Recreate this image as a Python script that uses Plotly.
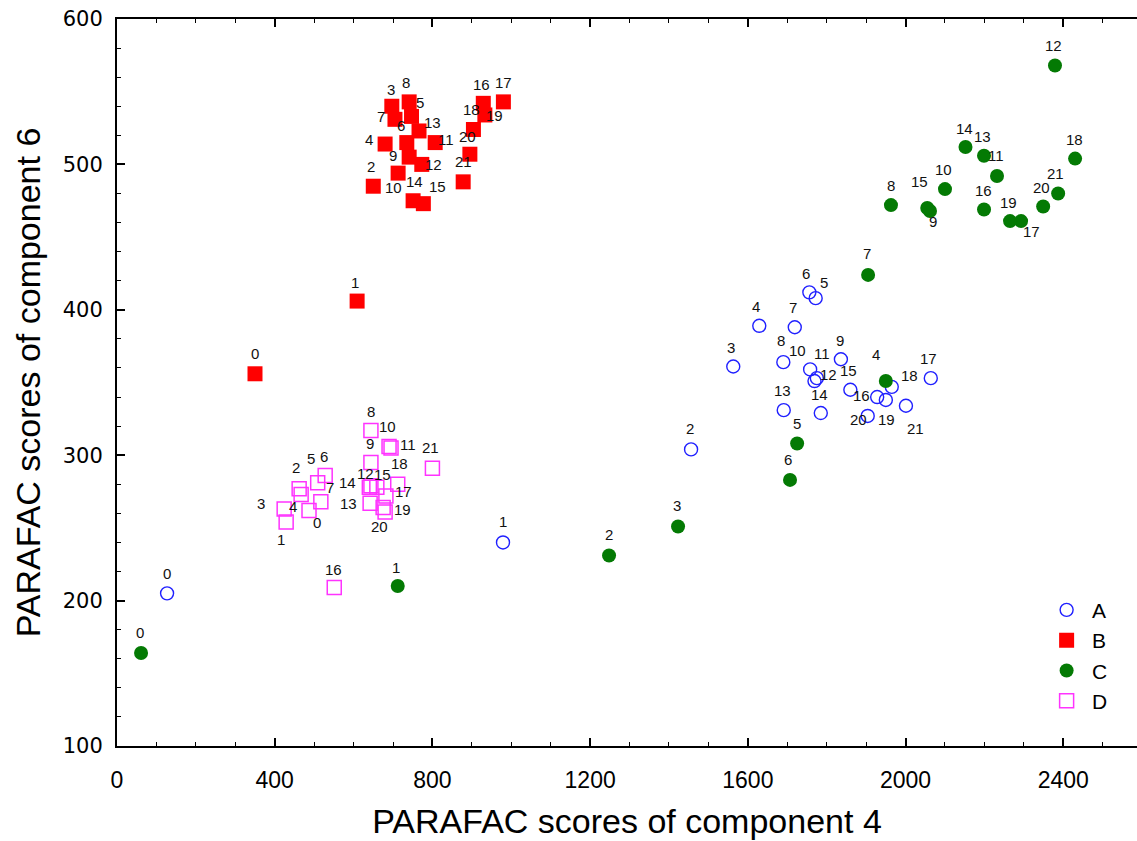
import plotly.graph_objects as go

# ---- data ----
labels = [str(i) for i in range(22)]

A_x = [127, 979, 1456, 1563, 1629, 1772, 1756, 1719, 1690, 1836, 1758, 1775, 1769, 1691, 1785, 1860, 1928, 2064, 1965, 1950, 1904, 2001]
A_y = [205, 240, 304, 361, 389, 408, 412, 388, 364, 366, 359, 353, 351, 331, 329, 345, 340, 353, 347, 338, 327, 334]

B_x = [350, 609, 650, 697, 680, 747, 735, 705, 741, 741, 713, 807, 773, 766, 751, 777, 929, 980, 904, 933, 895, 878]
B_y = [356, 406, 485, 540, 514, 533, 515, 531, 543, 505, 494, 515, 500, 523, 475, 473, 542, 543, 524, 534, 507, 488]

C_x = [61, 712, 1248, 1423, 1950, 1725, 1707, 1905, 1963, 2062, 2100, 2232, 2379, 2199, 2152, 2055, 2199, 2293, 2430, 2265, 2349, 2387]
C_y = [164, 210, 231, 251, 351, 308, 283, 424, 472, 468, 483, 492, 568, 506, 512, 470, 469, 461, 504, 461, 471, 480]

D_x = [487, 429, 462, 424, 467, 509, 528, 517, 644, 644, 690, 695, 640, 642, 644, 659, 551, 682, 712, 680, 675, 800]
D_y = [262, 254, 277, 263, 273, 281, 286, 268, 317, 295, 306, 305, 278, 267, 279, 278, 209, 272, 280, 261, 264, 291]

# ---- label placement (pixel offsets from marker, dx right, dy down) ----
A_off = [(0, -20), (0, -21), (-1, -21), (-2, -19), (-3, -19), (8, -16), (-3, -19), (-2, -20), (-2, -22), (-1, -19), (-13, -19),
         (5, -25), (14, -7), (-1, -20), (-1, -19), (-2, -19), (-16, -2), (-2, -20), (18, -11), (1, 20), (-9, 4), (10, 23)]
B_off = [(0, -20), (-2, -19), (-2, -20), (-1, -17), (-16, -5), (8, -14), (-6, -17), (-14, -3), (-3, -19), (-16, -2), (-5, 14),
         (11, -3), (12, 0), (13, -8), (1, -19), (14, -17), (-2, -19), (0, -19), (-2, -20), (10, 1), (-2, -18), (0, -20)]
C_off = [(-1, -20), (-2, -19), (0, -21), (-1, -21), (-10, -27), (0, -20), (-2, -20), (-1, -21), (0, -20), (3, 11), (-1, -20),
         (-1, -21), (-1, -20), (-2, -19), (-1, -18), (-8, -27), (-1, -19), (10, 10), (-1, -19), (-2, -19), (-2, -19), (-3, -20)]
D_off = [(8, 12), (-5, 17), (-3, -21), (-23, -6), (-8, 12), (-7, -24), (-1, -19), (9, -14), (0, -19), (-1, -19), (-2, -20),
         (17, -3), (-4, -14), (-22, 0), (-23, -3), (6, -13), (-1, -18), (18, -4), (2, -21), (17, -2), (-4, 19), (-2, -21)]

fig = go.Figure()

fig.add_trace(go.Scatter(x=A_x, y=A_y, mode="markers", name="A",
                         marker=dict(symbol="circle-open", size=13, color="#2020ff", line=dict(width=1.4))))
fig.add_trace(go.Scatter(x=B_x, y=B_y, mode="markers", name="B",
                         marker=dict(symbol="square", size=15, color="#ff0000", line=dict(width=0))))
fig.add_trace(go.Scatter(x=C_x, y=C_y, mode="markers", name="C",
                         marker=dict(symbol="circle", size=14, color="#047a04", line=dict(width=0))))
fig.add_trace(go.Scatter(x=D_x, y=D_y, mode="markers", name="D",
                         marker=dict(symbol="square-open", size=14, color="#ff33ff", line=dict(width=1.5))))

annotations = []
for xs, ys, offs in [(A_x, A_y, A_off), (B_x, B_y, B_off), (C_x, C_y, C_off), (D_x, D_y, D_off)]:
    for xv, yv, lab, (dx, dy) in zip(xs, ys, labels, offs):
        annotations.append(dict(x=xv, y=yv, text=lab, showarrow=False, xshift=dx, yshift=-dy,
                                font=dict(family="Liberation Sans, Arial", size=15, color="#111111")))

axis_common = dict(showline=True, linewidth=2, linecolor="black", showgrid=False, zeroline=False,
                   ticks="inside", ticklen=8, tickwidth=1.5, tickcolor="black")

fig.update_layout(
    width=1137, height=841,
    margin=dict(l=117, r=0, t=19, b=95),
    plot_bgcolor="white", paper_bgcolor="white",
    showlegend=True,
    legend=dict(x=0.906, y=0.215, xanchor="left", yanchor="top", bgcolor="rgba(0,0,0,0)", itemwidth=41,
                font=dict(family="Liberation Sans, Arial", size=21, color="black"), tracegroupgap=0),
    annotations=annotations,
    xaxis=dict(range=[0, 2587], tick0=0, dtick=400, mirror="ticks",
               minor=dict(dtick=100, ticks="inside", ticklen=4, tickcolor="black", tickwidth=1.2),
               tickfont=dict(family="Liberation Sans, Arial", size=23, color="black"),
               title=dict(text="PARAFAC scores of component 4", standoff=18,
                          font=dict(family="Liberation Sans, Arial", size=34, color="black")),
               ticklabelstandoff=12,
               **axis_common),
    yaxis=dict(range=[100, 600], tick0=100, dtick=100, mirror=False,
               minor=dict(dtick=20, ticks="inside", ticklen=4, tickcolor="black", tickwidth=1.2),
               tickfont=dict(family="DejaVu Sans", size=21, color="black"),
               title=dict(text="PARAFAC scores of component 6", standoff=12,
                          font=dict(family="Liberation Sans, Arial", size=34, color="black")),
               ticklabelstandoff=8,
               **axis_common),
    yaxis2=dict(range=[100, 600], tick0=100, dtick=100, overlaying="y", side="right", showline=False,
                showgrid=False, zeroline=False, showticklabels=False,
                ticks="inside", ticklen=6, tickwidth=1.2, tickcolor="black"),
)

fig.write_html("out.html")
